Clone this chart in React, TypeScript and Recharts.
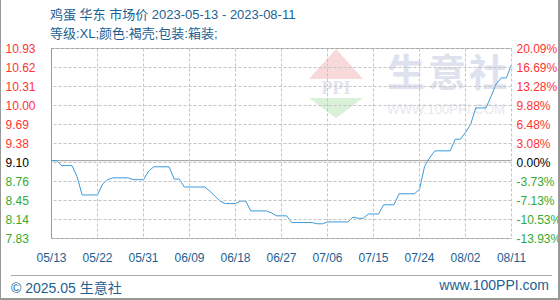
import { LineChart, Line, XAxis, YAxis, ReferenceLine } from "recharts";

// 2023-05-13 .. 2023-08-11, one value per day
const prices = [
  9.10, 9.10, 9.02, 9.02, 9.02, 8.84, 8.54, 8.54, 8.54, 8.54,
  8.72, 8.79, 8.82, 8.82, 8.82, 8.82, 8.79, 8.79, 8.79, 8.93,
  9.00, 9.00, 9.00, 9.00, 8.80, 8.80, 8.67, 8.67, 8.67, 8.67,
  8.67, 8.60, 8.52, 8.44, 8.40, 8.40, 8.40, 8.44, 8.44, 8.28,
  8.28, 8.28, 8.28, 8.25, 8.20, 8.20, 8.20, 8.09, 8.09, 8.09,
  8.09, 8.09, 8.07, 8.07, 8.10, 8.10, 8.10, 8.10, 8.10, 8.18,
  8.16, 8.16, 8.23, 8.23, 8.23, 8.38, 8.38, 8.38, 8.56, 8.56,
  8.56, 8.56, 8.63, 9.01, 9.15, 9.26, 9.26, 9.26, 9.26, 9.45,
  9.45, 9.56, 9.69, 9.96, 9.96, 9.96, 10.15, 10.35, 10.45, 10.45,
  10.67,
];

const basePrice = 9.10;

const xTicks = [0, 9, 18, 27, 36, 45, 54, 63, 72, 81, 90];
const xLabels = ["05/13", "05/22", "05/31", "06/09", "06/18", "06/27", "07/06", "07/15", "07/24", "08/02", "08/11"];

const yTicks = [10.93, 10.62, 10.31, 10.0, 9.69, 9.38, 9.07, 8.76, 8.45, 8.14, 7.83];
const leftLabels = ["10.93", "10.62", "10.31", "10.00", "9.69", "9.38", "9.10", "8.76", "8.45", "8.14", "7.83"];
const rightLabels = ["20.09%", "16.69%", "13.28%", "9.88%", "6.48%", "3.08%", "0.00%", "-3.73%", "-7.13%", "-10.53%", "-13.93%"];

const data = prices.map((price, day) => ({ day, price }));

const FONT = '"Liberation Sans", "Noto Sans CJK SC", sans-serif';
const BLUE_TEXT = "#1d5f92";
const RED = "#ff3333";
const GREEN = "#33aa33";
const GRID = "#c4c4c4";

// plot box: 460 x 190, the grid is drawn as tick lines reaching across it
const PLOT_W = 460;
const PLOT_H = 190;

function tickColor(i: number) {
  if (i < 6) return RED;
  if (i === 6) return "#000";
  return GREEN;
}

function LeftTick({ x, y, index }: any) {
  return (
    <text x={x} y={y} dy="0.36em" textAnchor="start" fontSize={12} fontFamily={FONT} fill={tickColor(index)}>
      {leftLabels[index]}
    </text>
  );
}

function RightTick({ x, y, index }: any) {
  return (
    <text x={x} y={y} dy="0.36em" textAnchor="start" fontSize={12} fontFamily={FONT} fill={tickColor(index)}>
      {rightLabels[index]}
    </text>
  );
}

function Watermark() {
  return (
    <svg width={560} height={300} style={{ position: "absolute", left: 0, top: 0 }}>
      <polygon points="335,49 362,79 308,79" fill="#f7d9d9" />
      <text x={335} y={94} textAnchor="middle" fontSize={18} fontWeight="bold" fontFamily="Liberation Serif" fill="#dfe3ee">PPI</text>
      <polygon points="308,98 362,98 335,118" fill="#d9f0d9" />
      <text x={386} y={86} fontSize={38} fontWeight="bold" fontFamily="Noto Sans CJK SC" fill="#dde2ee" textLength={120} lengthAdjust="spacing">生意社</text>
      <text x={386} y={114} fontSize={14} fontFamily={FONT} fill="#e6e8ee" textLength={118} lengthAdjust="spacingAndGlyphs">WWW.100PPI.COM</text>
    </svg>
  );
}

export default function App() {
  return (
    <div
      style={{
        position: "absolute",
        left: 0,
        top: 0,
        width: 560,
        height: 300,
        boxSizing: "border-box",
        borderLeft: "1px solid #999",
        borderRight: "2px solid #999",
        borderBottom: "2px solid #999",
        background: "#fff",
        fontFamily: FONT,
        overflow: "hidden",
      }}
    >
      <Watermark />
      <div style={{ position: "absolute", left: 49, top: 5, fontSize: 13, color: BLUE_TEXT, whiteSpace: "pre", lineHeight: "19px" }}>
        {"鸡蛋 华东 市场价 2023-05-13 - 2023-08-11"}
        <br />
        {"等级:XL;颜色:褐壳;包装:箱装;"}
      </div>
      <div style={{ position: "absolute", left: -1, top: 0 }}>
        <LineChart width={561} height={300} data={data} margin={{ top: 48.5, right: 0.5, bottom: 31.5, left: 0.5 }}>
          <XAxis
            dataKey="day"
            type="number"
            domain={[0, 90]}
            ticks={xTicks}
            interval={0}
            height={30}
            tickSize={-PLOT_H}
            tickMargin={PLOT_H + 15}
            tickLine={{ stroke: GRID, strokeDasharray: "3 2" }}
            axisLine={{ stroke: "#999" }}
            tick={{ fontSize: 12, fill: BLUE_TEXT, fontFamily: FONT }}
            tickFormatter={(v: number) => xLabels[xTicks.indexOf(v)]}
          />
          <YAxis
            domain={[7.83, 10.93]}
            ticks={yTicks}
            interval={0}
            width={51}
            tickSize={-PLOT_W}
            tickMargin={PLOT_W + 46}
            tickLine={{ stroke: GRID, strokeDasharray: "3 2" }}
            axisLine={{ stroke: "#999" }}
            tick={<LeftTick />}
          />
          <YAxis
            yAxisId="right"
            orientation="right"
            domain={[7.83, 10.93]}
            ticks={yTicks}
            interval={0}
            width={49}
            tickSize={0}
            tickMargin={5}
            axisLine={false}
            tickLine={false}
            tick={<RightTick />}
          />
          <ReferenceLine y={10.93} stroke="#999" ifOverflow="visible" />
          <ReferenceLine y={basePrice} stroke="#999" ifOverflow="visible" />
          <Line
            dataKey="price"
            type="linear"
            stroke="#3a9ad9"
            strokeWidth={1}
            dot={false}
            isAnimationActive={false}
          />
          <Line
            yAxisId="right"
            dataKey="price"
            type="linear"
            stroke="none"
            dot={false}
            activeDot={false}
            isAnimationActive={false}
          />
        </LineChart>
      </div>
      <div style={{ position: "absolute", left: 10, top: 275, width: 541, borderTop: "1px solid #aaa" }} />
      <div style={{ position: "absolute", left: 10, top: 277, fontSize: 14, color: BLUE_TEXT }}>© 2025.05 生意社</div>
      <div style={{ position: "absolute", right: 9, top: 277, fontSize: 14, color: BLUE_TEXT }}>www.100PPI.com</div>
    </div>
  );
}
